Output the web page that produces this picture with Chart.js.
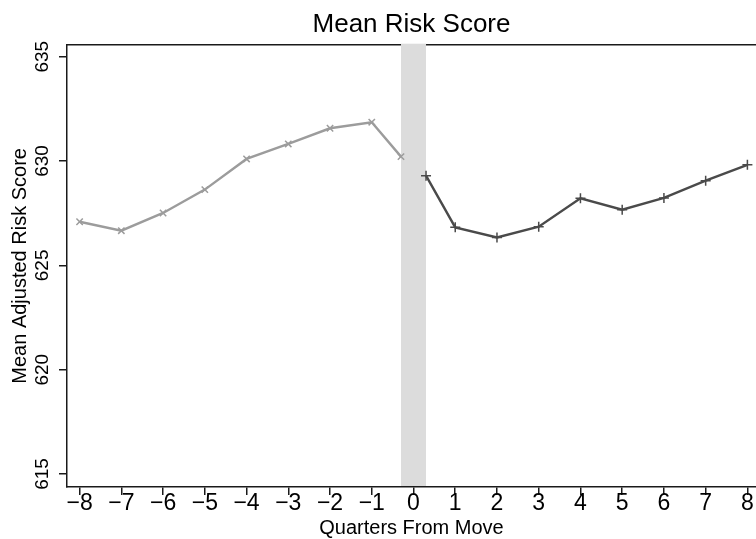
<!DOCTYPE html>
<html>
<head>
<meta charset="utf-8">
<title>Mean Risk Score</title>
<script src="https://cdn.jsdelivr.net/npm/chart.js@4"></script>
<style>
  html, body { margin: 0; padding: 0; background: #fff; }
  #wrap { width: 756px; height: 539px; position: relative; }
</style>
</head>
<body>
<div id="wrap"><canvas id="riskChart"></canvas></div>
<script>
// quarters before / after the move (the -0.3 / 0.3 points sit at the edges of the move band)
const preQuarters  = [-8, -7, -6, -5, -4, -3, -2, -1, -0.3];
const preScores    = [627.09, 626.66, 627.51, 628.63, 630.10, 630.82, 631.57, 631.86, 630.21];
const postQuarters = [0.3, 1, 2, 3, 4, 5, 6, 7, 8];
const postScores   = [629.30, 626.82, 626.34, 626.85, 628.21, 627.67, 628.23, 629.06, 629.82];

const xTicks = [-8, -7, -6, -5, -4, -3, -2, -1, 0, 1, 2, 3, 4, 5, 6, 7, 8];
const yTicks = [615, 620, 625, 630, 635];
const moveBand = [-0.3, 0.3];

const AXIS = '#1a1a1a';
const SANS = '"Liberation Sans", Arial, Helvetica, sans-serif';

// top frame line + grey band over the move quarter
const frameAndBand = {
  id: 'frameAndBand',
  beforeDatasetsDraw(chart) {
    const { ctx, chartArea: a, scales: { x } } = chart;
    ctx.save();
    ctx.strokeStyle = AXIS;
    ctx.lineWidth = 1.5;
    ctx.beginPath();
    ctx.moveTo(a.left, a.top);
    ctx.lineTo(a.right, a.top);
    ctx.stroke();
    const x0 = x.getPixelForValue(moveBand[0]);
    const x1 = x.getPixelForValue(moveBand[1]);
    ctx.fillStyle = '#dcdcdc';
    ctx.fillRect(x0, a.top - 1, x1 - x0, a.bottom - a.top);
    ctx.restore();
  }
};

const fmtX = v => (v < 0 ? '\u2212' + Math.abs(v) : String(v));

new Chart(document.getElementById('riskChart'), {
  type: 'line',
  data: {
    datasets: [
      {
        label: 'Before move',
        data: preQuarters.map((q, i) => ({ x: q, y: preScores[i] })),
        borderColor: '#9c9c9c',
        backgroundColor: '#9c9c9c',
        borderWidth: 2.4,
        pointStyle: 'crossRot',
        pointRadius: 4.5,
        pointBorderWidth: 1.5,
        pointBorderColor: '#9c9c9c',
        tension: 0
      },
      {
        label: 'After move',
        data: postQuarters.map((q, i) => ({ x: q, y: postScores[i] })),
        borderColor: '#4a4a4a',
        backgroundColor: '#4a4a4a',
        borderWidth: 2.4,
        pointStyle: 'cross',
        pointRadius: 5,
        pointBorderWidth: 1.5,
        pointBorderColor: '#4a4a4a',
        tension: 0,
        clip: false
      }
    ]
  },
  options: {
    responsive: true,
    maintainAspectRatio: false,
    animation: false,
    layout: { padding: 0, autoPadding: false },
    plugins: {
      legend: { display: false },
      tooltip: { enabled: false },
      title: {
        display: true,
        text: 'Mean Risk Score',
        fullSize: false,
        color: '#000',
        font: { family: SANS, size: 26, weight: 'normal', lineHeight: 1.2 },
        padding: { top: 9, bottom: 4.5 }
      }
    },
    scales: {
      x: {
        type: 'linear',
        min: -8.302,
        max: 8.206,
        afterBuildTicks: s => { s.ticks = xTicks.map(v => ({ value: v })); },
        afterFit: s => { s.height = 52; s.paddingLeft = 0; s.paddingRight = 0; },
        ticks: {
          color: '#000',
          padding: 0,
          autoSkip: false,
          maxRotation: 0,
          font: { family: SANS, size: 23, lineHeight: 0.75 },
          callback: v => fmtX(v)
        },
        grid: { display: true, drawOnChartArea: false, drawTicks: true, tickLength: 8, color: AXIS, lineWidth: 1.5 },
        border: { display: true, color: AXIS, width: 1.5 },
        title: {
          display: true,
          text: 'Quarters From Move',
          color: '#000',
          font: { family: SANS, size: 20, lineHeight: 1 },
          padding: { top: 0, bottom: 1 }
        }
      },
      y: {
        type: 'linear',
        min: 614.377,
        max: 635.575,
        afterBuildTicks: s => { s.ticks = yTicks.map(v => ({ value: v })); },
        afterFit: s => { s.width = 67; },
        ticks: {
          color: '#000',
          padding: 0,
          minRotation: 90,
          maxRotation: 90,
          crossAlign: 'center',
          font: { family: SANS, size: 19, lineHeight: 1.2 }
        },
        grid: { display: true, drawOnChartArea: false, drawTicks: true, tickLength: 8, color: AXIS, lineWidth: 1.5 },
        border: { display: true, color: AXIS, width: 1.5 },
        title: {
          display: true,
          text: 'Mean Adjusted Risk Score',
          color: '#000',
          font: { family: SANS, size: 20, lineHeight: 1.2 },
          padding: { top: 8, bottom: 0 }
        }
      }
    }
  },
  plugins: [frameAndBand]
});
</script>
</body>
</html>
